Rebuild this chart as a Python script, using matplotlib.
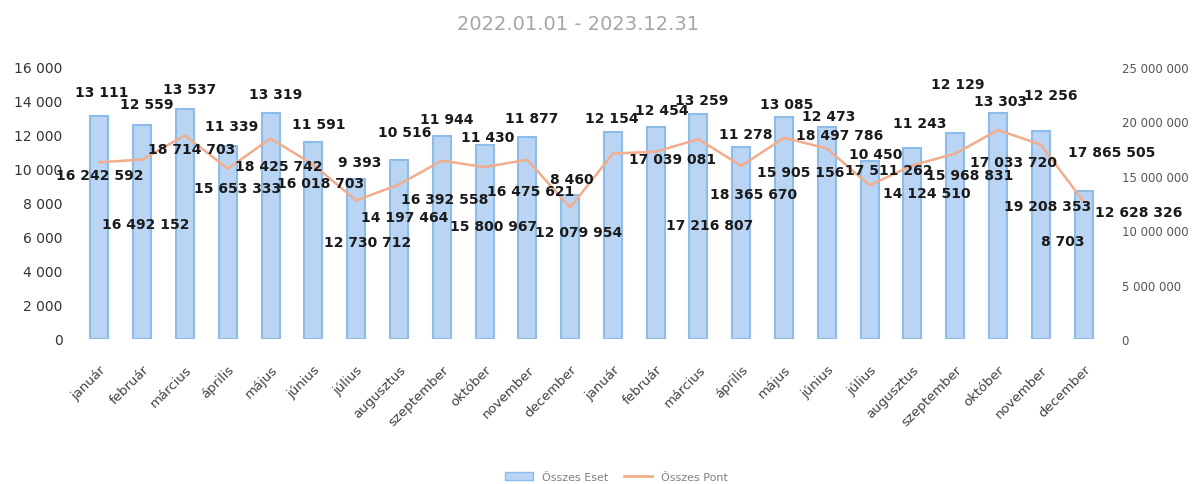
import matplotlib.pyplot as plt
from matplotlib.patches import Patch
from matplotlib.lines import Line2D
from matplotlib.ticker import FuncFormatter

months = ["január", "február", "március", "április", "május", "június",
          "július", "augusztus", "szeptember", "október", "november", "december"] * 2

eset = [13111, 12559, 13537, 11339, 13319, 11591, 9393, 10516, 11944, 11430, 11877, 8460,
        12154, 12454, 13259, 11278, 13085, 12473, 10450, 11243, 12129, 13303, 12256, 8703]

pont = [16242592, 16492152, 18714703, 15653333, 18425742, 16018703, 12730712, 14197464,
        16392558, 15800967, 16475621, 12079954, 17039081, 17216807, 18365670, 15905156,
        18497786, 17511262, 14124510, 15968831, 17033720, 19208353, 17865505, 12628326]

# label placement as in the original (pixels, x right / y down)
bar_lbl_off = [(2, -24), (5, -21), (5, -20), (4, -20), (5, -19), (5, -18), (4, -17), (6, -28),
               (5, -17), (3, -8), (4, -19), (2, -16), (-1, -14), (6, -17), (3, -14), (4, -13),
               (3, -13), (2, -11), (6, -7), (7, -25), (3, -49), (3, -12), (10, -36), (-21, 50)]
line_lbl_off = [(0, 13), (4, 64), (7, 14), (10, 19), (8, 27), (7, 18), (11, 42), (6, 32),
                (3, 38), (9, 59), (3, 31), (9, 24), (60, 5), (54, 73), (55, 55), (59, 6),
                (56, -3), (62, 22), (57, 8), (57, 10), (58, 8), (50, 76), (71, 7), (55, 10)]

bar_col = '#b9d5f3'
bar_edge = '#8dbbea'
line_col = '#f2ad8c'

def sp(v):
    return f"{int(v):,}".replace(",", " ")

fig = plt.figure(figsize=(11.97, 4.85), dpi=100)
ax = fig.add_axes([78 / 1197, 1 - 340 / 485, 1027 / 1197, 272 / 485])
ax2 = ax.twinx()

x = list(range(len(months)))
ax.bar(x, eset, width=0.42, color=bar_col, edgecolor=bar_edge, linewidth=1.5)
ax2.plot(x, pont, color=line_col, lw=1.8)

ax.set_xlim(-0.5, 23.5)
ax.set_ylim(0, 16000)
ax.set_yticks(range(0, 16001, 2000))
ax2.set_ylim(0, 25000000)
ax2.set_yticks(range(0, 25000001, 5000000))
ax.yaxis.set_major_formatter(FuncFormatter(lambda v, p: sp(v)))
ax2.yaxis.set_major_formatter(FuncFormatter(lambda v, p: sp(v)))

for a in (ax, ax2):
    for s in a.spines.values():
        s.set_visible(False)
ax.tick_params(axis='y', length=0, pad=11, labelsize=10, labelcolor='#333333')
ax2.tick_params(axis='y', length=0, pad=12, labelsize=8.5, labelcolor='#555555')
ax.set_xticks(x)
ax.set_xticklabels(months, rotation=45, ha='right', rotation_mode='anchor')
ax.tick_params(axis='x', length=0, pad=17, labelsize=9.5, labelcolor='#404040')

for i, v in enumerate(eset):
    dx, dy = bar_lbl_off[i]
    ax2.annotate(sp(v), xy=(i, v), xycoords=ax.transData, xytext=(dx, -dy),
                 textcoords='offset pixels', ha='center', va='center',
                 fontsize=10, fontweight='bold', color='#1a1a1a')
for i, v in enumerate(pont):
    dx, dy = line_lbl_off[i]
    ax2.annotate(sp(v), xy=(i, v), xytext=(dx, -dy), textcoords='offset pixels',
                 ha='center', va='center', fontsize=10, fontweight='bold', color='#1a1a1a')

fig.text(578 / 1197, 1 - 25 / 485, "2022.01.01 - 2023.12.31", ha='center', va='center',
         fontsize=14, color='#a6a6a6')

handles = [Patch(facecolor=bar_col, edgecolor=bar_edge), Line2D([], [], color=line_col, lw=2)]
fig.legend(handles, ["Összes Eset", "Összes Pont"], loc='center', bbox_to_anchor=(0.515, 1 - 478 / 485),
           ncol=2, frameon=False, fontsize=8, labelcolor='#808080', handlelength=2.5,
           columnspacing=1.5)

fig.savefig("out.png", dpi=100)
